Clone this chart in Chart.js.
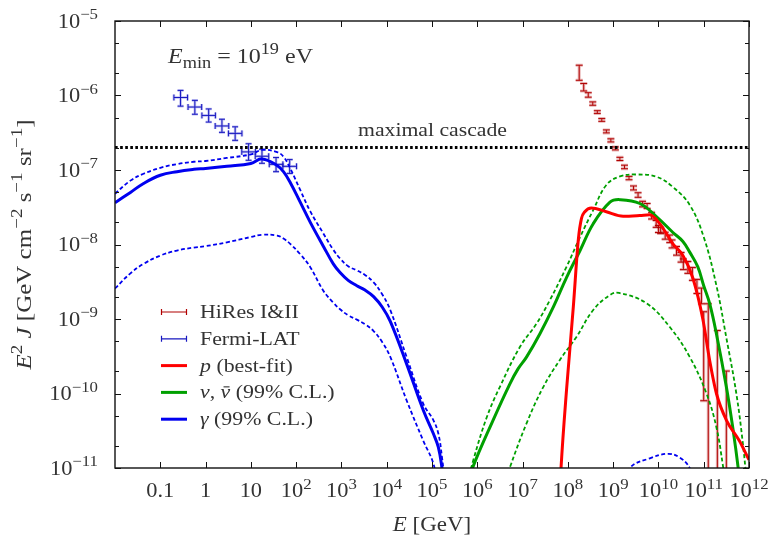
<!DOCTYPE html>
<html>
<head>
<meta charset="utf-8">
<script src="https://cdn.jsdelivr.net/npm/chart.js@4.4.1/dist/chart.umd.min.js"></script>
<style>
html, body { margin: 0; padding: 0; background: #fff; }
#wrap { width: 770px; height: 538px; }
</style>
</head>
<body>
<div id="wrap"><canvas id="chart" width="770" height="538"></canvas></div>
<script>
// ============================================
// Data (E in GeV, E^2 J in GeV cm^-2 s^-1 sr^-1)
// ============================================
var gammaE = [0.01, 0.0219, 0.0427, 0.1, 0.234, 0.55, 1, 2.95, 10, 17.8, 38, 52.5, 74, 123, 204, 398, 661, 933,
    1410, 2190, 3310, 5130, 7940, 1.2e4, 2.75e4, 6.46e4, 1.07e5, 1.38e5, 1.66e5, 2.0e5];
var gammaBest = [3.63e-8, 5.0e-8, 6.6e-8, 8.5e-8, 9.5e-8, 1.02e-7, 1.05e-7, 1.12e-7, 1.22e-7, 1.41e-7, 1.15e-7, 9.5e-8, 6.8e-8, 3.7e-8, 2.0e-8, 9.5e-9, 5.5e-9, 4.2e-9,
    3.3e-9, 2.8e-9, 2.45e-9, 2.0e-9, 1.45e-9, 9.3e-10, 2.5e-10, 5.9e-11, 2.9e-11, 1.9e-11, 1.0e-11, 4e-12];
var gammaHigh = [4.8e-8, 7.2e-8, 8.9e-8, 1.07e-7, 1.2e-7, 1.29e-7, 1.32e-7, 1.45e-7, 1.62e-7, 1.86e-7, 1.74e-7, 1.51e-7, 1.05e-7, 5.4e-8, 2.8e-8, 1.41e-8, 8.5e-9, 6.5e-9,
    5.1e-9, 4.5e-9, 3.9e-9, 3.1e-9, 2.15e-9, 1.32e-9, 3.1e-10, 7.2e-11, 4.4e-11, 2.9e-11, 1.4e-11, 5e-12];
var gammaLow = [2.57e-9, 4.1e-9, 5.5e-9, 7.1e-9, 8.3e-9, 9.1e-9, 9.5e-9, 1.07e-8, 1.26e-8, 1.35e-8, 1.32e-8, 1.2e-8, 1.02e-8, 7.4e-9, 5.0e-9, 2.4e-9, 1.66e-9, 1.35e-9,
    1.12e-9, 9.8e-10, 8.5e-10, 6.9e-10, 4.9e-10, 3.1e-10, 8.1e-11, 2.3e-11, 1.15e-11, 5e-12, 2.5e-12, 1e-12];

// small gamma bump at the highest energies
var gammaTailE = [1.58e9, 2.34e9, 6.46e9, 1.62e10, 2.95e10, 4.9e10, 7.08e10];
var gammaTailJ = [5e-12, 1e-11, 1.35e-11, 1.55e-11, 1.38e-11, 1e-11, 5e-12];

var nuE = [3.16e5, 7.94e5, 2.24e6, 5.25e6, 7.94e6, 1.23e7, 2.4e7, 4.79e7, 9.33e7, 1.86e8, 3.63e8, 8.51e8, 1.41e9, 3.89e9, 9.12e9,
    2.09e10, 3.47e10, 4.9e10, 7.41e10, 1e11, 1.35e11, 1.91e11, 3.16e11, 4.47e11, 5.75e11, 7.08e11];
var nuBest = [2e-12, 1.02e-11, 4.4e-11, 1.35e-10, 2.14e-10, 3.1e-10, 6.3e-10, 1.45e-9, 3.6e-9, 8.3e-9, 1.9e-8, 3.7e-8, 4.0e-8, 3.55e-8, 2.35e-8,
    1.45e-8, 1.1e-8, 7.9e-9, 5.0e-9, 2.8e-9, 1.62e-9, 6.3e-10, 1.23e-10, 3.2e-11, 1.02e-11, 3.2e-12];

var nuHighE = [3.98e5, 8.13e5, 1.62e6, 3.16e6, 8.71e6, 2.04e7, 3.98e7, 9.33e7, 1.86e8, 3.63e8, 7.08e8, 1.41e9, 3.31e9, 9.12e9,
    2.09e10, 4.9e10, 1e11, 1.91e11, 3.16e11, 5.25e11, 7.41e11, 8.91e11];
var nuHigh = [2.5e-12, 1.26e-11, 4.8e-11, 1.23e-10, 4.2e-10, 8.7e-10, 1.78e-9, 5.0e-9, 1.26e-8, 2.9e-8, 6.3e-8, 8.2e-8, 8.7e-8, 8.1e-8,
    5.9e-8, 3.4e-8, 1.26e-8, 2.8e-9, 5.6e-10, 1.0e-10, 2.0e-11, 6.3e-12];

var nuLowE = [3.16e6, 5.25e6, 1.23e7, 2.88e7, 6.61e7, 1.55e8, 3.63e8, 8.51e8, 1.35e9, 5.5e9, 1.78e10, 4.9e10, 1.15e11, 1.91e11, 2.69e11, 3.16e11];
var nuLow = [4e-12, 1.02e-11, 4.0e-11, 1.23e-10, 2.8e-10, 5.75e-10, 1.32e-9, 2.1e-9, 2.24e-9, 1.62e-9, 7.8e-10, 3.1e-10, 1.0e-10, 3.5e-11, 1.02e-11, 5e-12];

var protonE = [6.31e7, 7.08e7, 9.33e7, 1.32e8, 1.7e8, 2.0e8, 2.37e8, 3.31e8, 7.08e8, 1.66e9, 3.89e9, 6.46e9, 1.07e10, 2.09e10,
    3.47e10, 5.75e10, 9.55e10, 1.35e11, 1.91e11, 3.16e11, 6.17e11, 1e12, 1.26e12];
var protonJ = [2.5e-12, 1.02e-11, 1.1e-10, 1.45e-9, 1.15e-8, 2.24e-8, 2.75e-8, 3.1e-8, 2.75e-8, 2.4e-8, 2.45e-8, 2.5e-8, 1.9e-8, 1.02e-8,
    7.1e-9, 3.55e-9, 1.0e-9, 2.8e-10, 1.0e-10, 4.4e-11, 2.3e-11, 1.29e-11, 1.0e-11];

var cascadeE = [0.01, 1e12];
var cascadeJ = [2e-7, 2e-7];

var hiresE = [1.78e8, 2.24e8, 2.82e8, 3.55e8, 4.47e8, 5.62e8, 7.08e8, 8.91e8, 1.12e9, 1.41e9, 1.78e9, 2.24e9, 2.82e9, 3.55e9,
    4.47e9, 5.62e9, 7.08e9, 8.91e9, 1.0e10, 1.12e10, 1.41e10, 1.78e10, 2.0e10, 2.51e10, 3.16e10, 3.55e10, 4.47e10, 5.62e10,
    7.08e10, 8.91e10, 1.0e11, 1.26e11, 2.0e11, 3.16e11];
var hiresJ = [2.0e-6, 1.29e-6, 1.02e-6, 7.8e-7, 6.0e-7, 4.7e-7, 3.3e-7, 2.5e-7, 1.95e-7, 1.41e-7, 1.10e-7, 7.8e-8, 5.75e-8, 4.6e-8,
    3.5e-8, 3.3e-8, 2.45e-8, 1.9e-8, 1.62e-8, 1.55e-8, 1.32e-8, 1.2e-8, 1.02e-8, 8.3e-9, 6.8e-9, 5.5e-9, 5.0e-9, 4.1e-9,
    2.8e-9, 2.1e-9, 7e-10, 1.07e-9, 2.8e-10, 8e-11];
var hiresLo = [1.6e-6, 1.15e-6, 0.95e-6, 7.4e-7, 5.75e-7, 4.5e-7, 3.15e-7, 2.38e-7, 1.86e-7, 1.34e-7, 1.04e-7, 7.4e-8, 5.4e-8, 4.3e-8,
    3.2e-8, 3.05e-8, 2.2e-8, 1.7e-8, 1.45e-8, 1.4e-8, 1.18e-8, 1.06e-8, 0.9e-8, 7.2e-9, 5.8e-9, 4.6e-9, 4.1e-9, 3.3e-9,
    2.2e-9, 1.6e-9, 8e-11, 1e-12, 1e-12, 1e-12];
var hiresHi = [2.55e-6, 1.45e-6, 1.09e-6, 8.2e-7, 6.25e-7, 4.9e-7, 3.45e-7, 2.62e-7, 2.04e-7, 1.48e-7, 1.16e-7, 8.2e-8, 6.1e-8, 4.95e-8,
    3.8e-8, 3.55e-8, 2.7e-8, 2.1e-8, 1.8e-8, 1.7e-8, 1.46e-8, 1.34e-8, 1.15e-8, 9.4e-9, 7.8e-9, 6.4e-9, 5.9e-9, 4.9e-9,
    3.4e-9, 2.6e-9, 1.25e-9, 1.6e-9, 7e-10, 2e-10];

var fermiE = [0.28, 0.58, 1.17, 2.3, 4.5, 8.9, 17.6, 36, 72];
var fermiElo = [0.2, 0.41, 0.83, 1.63, 3.2, 6.3, 12.5, 25.5, 51];
var fermiEhi = [0.4, 0.82, 1.65, 3.25, 6.35, 12.6, 24.8, 51, 102];
var fermiJ = [9.4e-7, 7.0e-7, 5.4e-7, 3.9e-7, 3.1e-7, 1.75e-7, 1.53e-7, 1.19e-7, 1.12e-7];
var fermiJlo = [7.2e-7, 5.6e-7, 4.4e-7, 3.2e-7, 2.5e-7, 1.35e-7, 1.23e-7, 0.95e-7, 0.9e-7];
var fermiJhi = [1.17e-6, 8.6e-7, 6.6e-7, 4.8e-7, 3.8e-7, 2.25e-7, 1.9e-7, 1.47e-7, 1.38e-7];

var xTickExp = [-1, 0, 1, 2, 3, 4, 5, 6, 7, 8, 9, 10, 11, 12];
var yTickExp = [-11, -10, -9, -8, -7, -6, -5];

// ============================================
// Colours / fonts
// ============================================
var BLUE = '#0000f0';
var GREEN = '#00a000';
var RED = '#ff0000';
var HIRES = '#b00000';
var FERMI = '#1818c0';
var TEXT = '#333333';
var FONT = '"Liberation Serif", "DejaVu Serif", serif';
var WIDE = 1.12;   // Computer Modern is wider than Times

function pairs(xs, ys) {
    return xs.map(function(x, i) { return { x: x, y: ys[i] }; });
}

function curve(xs, ys, color, width, dash, mono) {
    var ds = {
        data: pairs(xs, ys),
        borderColor: color,
        borderWidth: width,
        borderDash: dash || [],
        borderCapStyle: 'butt',
        borderJoinStyle: 'round',
        pointRadius: 0,
        fill: false
    };
    if (mono) ds.cubicInterpolationMode = 'monotone';
    else ds.tension = 0.4;
    return ds;
}

// ============================================
// Rich text (italic, super/subscripts, overbar)
// ============================================
function T(t) { return { t: t }; }
function I(t) { return { t: t, it: true }; }
function BAR(t) { return { t: t, it: true, bar: true }; }
function SUP(t) { return { t: t, sup: true }; }
function SUB(t) { return { t: t, sub: true }; }

function fontFor(p, size) {
    var s = (p.sup || p.sub) ? Math.round(size * 0.74) : size;
    return (p.it ? 'italic ' : '') + s + 'px ' + FONT;
}

function richWidth(ctx, parts, size) {
    var w = 0;
    parts.forEach(function(p) {
        ctx.font = fontFor(p, size);
        w += ctx.measureText(p.t).width;
    });
    return w;
}

function drawRich(ctx, parts, x, y, size, align, stretch) {
    stretch = stretch || WIDE;
    var w = richWidth(ctx, parts, size) * stretch;
    var x0 = align === 'center' ? x - w / 2 : (align === 'right' ? x - w : x);
    ctx.save();
    ctx.translate(x0, y);
    ctx.scale(stretch, 1);
    ctx.textAlign = 'left';
    ctx.textBaseline = 'alphabetic';
    var cx = 0;
    parts.forEach(function(p) {
        ctx.font = fontFor(p, size);
        var dy = p.sup ? -size * 0.42 : (p.sub ? size * 0.24 : 0);
        var pw = ctx.measureText(p.t).width;
        ctx.fillText(p.t, cx, dy);
        if (p.bar) {
            ctx.fillRect(cx + pw * 0.3, -size * 0.62, pw * 0.62, 1.1);
        }
        cx += pw;
    });
    ctx.restore();
}

// ============================================
// Error bars
// ============================================
function drawHiRes(chart) {
    var ctx = chart.ctx, xs = chart.scales.x, ys = chart.scales.y;
    var a = chart.chartArea;
    ctx.save();
    ctx.beginPath();
    ctx.rect(a.left, a.top, a.right - a.left, a.bottom - a.top);
    ctx.clip();
    for (var pass = 0; pass < 2; pass++) {
        ctx.strokeStyle = pass === 0 ? 'rgba(205, 90, 90, 0.45)' : HIRES;
        ctx.lineWidth = pass === 0 ? 3 : 1;
        for (var i = 0; i < hiresE.length; i++) {
            var px = xs.getPixelForValue(hiresE[i]);
            var y0 = ys.getPixelForValue(hiresLo[i]);
            var y1 = ys.getPixelForValue(hiresHi[i]);
            ctx.beginPath();
            ctx.moveTo(px, y0); ctx.lineTo(px, y1);
            ctx.moveTo(px - 3.5, y0); ctx.lineTo(px + 3.5, y0);
            ctx.moveTo(px - 3.5, y1); ctx.lineTo(px + 3.5, y1);
            ctx.stroke();
        }
    }
    ctx.restore();
}

function drawFermi(chart) {
    var ctx = chart.ctx, xs = chart.scales.x, ys = chart.scales.y;
    ctx.save();
    for (var pass = 0; pass < 2; pass++) {
        ctx.strokeStyle = pass === 0 ? 'rgba(90, 90, 220, 0.4)' : FERMI;
        ctx.lineWidth = pass === 0 ? 2.6 : 1;
        for (var i = 0; i < fermiE.length; i++) {
            var px = xs.getPixelForValue(fermiE[i]);
            var py = ys.getPixelForValue(fermiJ[i]);
            var x0 = xs.getPixelForValue(fermiElo[i]);
            var x1 = xs.getPixelForValue(fermiEhi[i]);
            var y0 = ys.getPixelForValue(fermiJlo[i]);
            var y1 = ys.getPixelForValue(fermiJhi[i]);
            ctx.beginPath();
            ctx.moveTo(x0, py); ctx.lineTo(x1, py);
            ctx.moveTo(x0, py - 3); ctx.lineTo(x0, py + 3);
            ctx.moveTo(x1, py - 3); ctx.lineTo(x1, py + 3);
            ctx.moveTo(px, y0); ctx.lineTo(px, y1);
            ctx.moveTo(px - 3, y0); ctx.lineTo(px + 3, y0);
            ctx.moveTo(px - 3, y1); ctx.lineTo(px + 3, y1);
            ctx.stroke();
        }
    }
    ctx.restore();
}

// ============================================
// Frame, ticks, labels
// ============================================
function drawFrame(chart) {
    var ctx = chart.ctx, a = chart.chartArea;
    var xs = chart.scales.x, ys = chart.scales.y;
    ctx.save();
    ctx.strokeStyle = '#111';
    ctx.lineWidth = 1.4;
    ctx.strokeRect(a.left, a.top, a.right - a.left, a.bottom - a.top);

    ctx.lineWidth = 1;
    ctx.beginPath();
    xTickExp.forEach(function(e) {
        var px = Math.round(xs.getPixelForValue(Math.pow(10, e))) + 0.5;
        ctx.moveTo(px, a.bottom); ctx.lineTo(px, a.bottom - 6);
        ctx.moveTo(px, a.top); ctx.lineTo(px, a.top + 6);
    });
    yTickExp.forEach(function(e) {
        [1, 2, 5].forEach(function(m) {
            var v = m * Math.pow(10, e);
            if (v > 1.0001e-5) return;
            var py = Math.round(ys.getPixelForValue(v)) + 0.5;
            var len = m === 1 ? 6 : 4;
            ctx.moveTo(a.left, py); ctx.lineTo(a.left + len, py);
            ctx.moveTo(a.right, py); ctx.lineTo(a.right - len, py);
        });
    });
    ctx.stroke();

    // tick labels
    ctx.fillStyle = TEXT;
    xTickExp.forEach(function(e) {
        var px = xs.getPixelForValue(Math.pow(10, e));
        var parts;
        if (e === -1) parts = [T('0.1')];
        else if (e === 0) parts = [T('1')];
        else if (e === 1) parts = [T('10')];
        else parts = [T('10'), SUP(String(e))];
        drawRich(ctx, parts, px, 497, 20, 'center');
    });
    yTickExp.forEach(function(e) {
        var py = ys.getPixelForValue(Math.pow(10, e));
        drawRich(ctx, [T('10'), SUP('\u2212' + Math.abs(e))], 98, py + 6.5, 20, 'right');
    });

    // axis titles
    drawRich(ctx, [I('E'), T(' [GeV]')], (a.left + a.right) / 2, 531, 20.5, 'center');
    ctx.save();
    ctx.translate(31, (a.top + a.bottom) / 2);
    ctx.rotate(-Math.PI / 2);
    var yTitle = [I('E'), SUP('2'), T(' '), I('J'), T(' [GeV cm'), SUP('\u22122'), T(' s'), SUP('\u22121'), T(' sr'), SUP('\u22121'), T(']')];
    drawRich(ctx, yTitle, 0, 0, 21, 'center', 250 / richWidth(ctx, yTitle, 21));
    ctx.restore();

    // annotations
    var emin = [I('E'), SUB('min'), T(' = 10'), SUP('19'), T(' eV')];
    drawRich(ctx, emin, 168, 63, 21, 'left', 145 / richWidth(ctx, emin, 21));
    var casc = [T('maximal cascade')];
    drawRich(ctx, casc, 432.5, 136, 19, 'center', 149 / richWidth(ctx, casc, 19));
    ctx.restore();
}

// ============================================
// Legend
// ============================================
function drawLegend(chart) {
    var ctx = chart.ctx;
    var rows = [
        { kind: 'bar', color: HIRES, label: [T('HiRes I&II')] },
        { kind: 'bar', color: FERMI, label: [T('Fermi-LAT')] },
        { kind: 'line', color: RED, label: [I('p'), T(' (best-fit)')] },
        { kind: 'line', color: GREEN, label: [I('\u03bd'), T(', '), BAR('\u03bd'), T(' (99% C.L.)')] },
        { kind: 'line', color: BLUE, label: [I('\u03b3'), T(' (99% C.L.)')] }
    ];
    ctx.save();
    rows.forEach(function(r, i) {
        var y = 312 + i * 26.8;
        ctx.strokeStyle = r.color;
        ctx.beginPath();
        if (r.kind === 'bar') {
            ctx.lineWidth = 1.2;
            ctx.moveTo(161, y); ctx.lineTo(187, y);
            ctx.moveTo(161.5, y - 3); ctx.lineTo(161.5, y + 3);
            ctx.moveTo(186.5, y - 3); ctx.lineTo(186.5, y + 3);
        } else {
            ctx.lineWidth = 3;
            ctx.moveTo(161, y); ctx.lineTo(187, y);
        }
        ctx.stroke();
        ctx.fillStyle = TEXT;
        drawRich(ctx, r.label, 200, y + 6, 19.5, 'left');
    });
    ctx.restore();
}

var overlay = {
    id: 'overlay',
    beforeDatasetsDraw: function(chart) {
        drawHiRes(chart);
        drawFermi(chart);
    },
    afterDraw: function(chart) {
        drawFrame(chart);
        drawLegend(chart);
    }
};

// ============================================
// Chart
// ============================================
var ctx = document.getElementById('chart');
new Chart(ctx, {
    type: 'line',
    data: {
        datasets: [
            curve(protonE, protonJ, RED, 3, null, true),
            curve(nuE, nuBest, GREEN, 3),
            curve(gammaE, gammaBest, BLUE, 3),
            curve(nuHighE, nuHigh, GREEN, 1.8, [4, 2.5]),
            curve(nuLowE, nuLow, GREEN, 1.8, [4, 2.5]),
            curve(gammaE, gammaHigh, BLUE, 1.8, [4, 2.5]),
            curve(gammaE, gammaLow, BLUE, 1.8, [4, 2.5]),
            curve(gammaTailE, gammaTailJ, BLUE, 1.8, [4, 2.5]),
            curve(cascadeE, cascadeJ, '#000', 3, [2.6, 2.4])
        ]
    },
    options: {
        responsive: false,
        animation: false,
        devicePixelRatio: 1,
        events: [],
        layout: { padding: { left: 115, right: 21, top: 21, bottom: 70 } },
        plugins: {
            legend: { display: false },
            tooltip: { enabled: false }
        },
        scales: {
            x: { type: 'logarithmic', min: 0.01, max: 1e12, display: false },
            y: { type: 'logarithmic', min: 1e-11, max: 1e-5, display: false }
        }
    },
    plugins: [overlay]
});
</script>
</body>
</html>
